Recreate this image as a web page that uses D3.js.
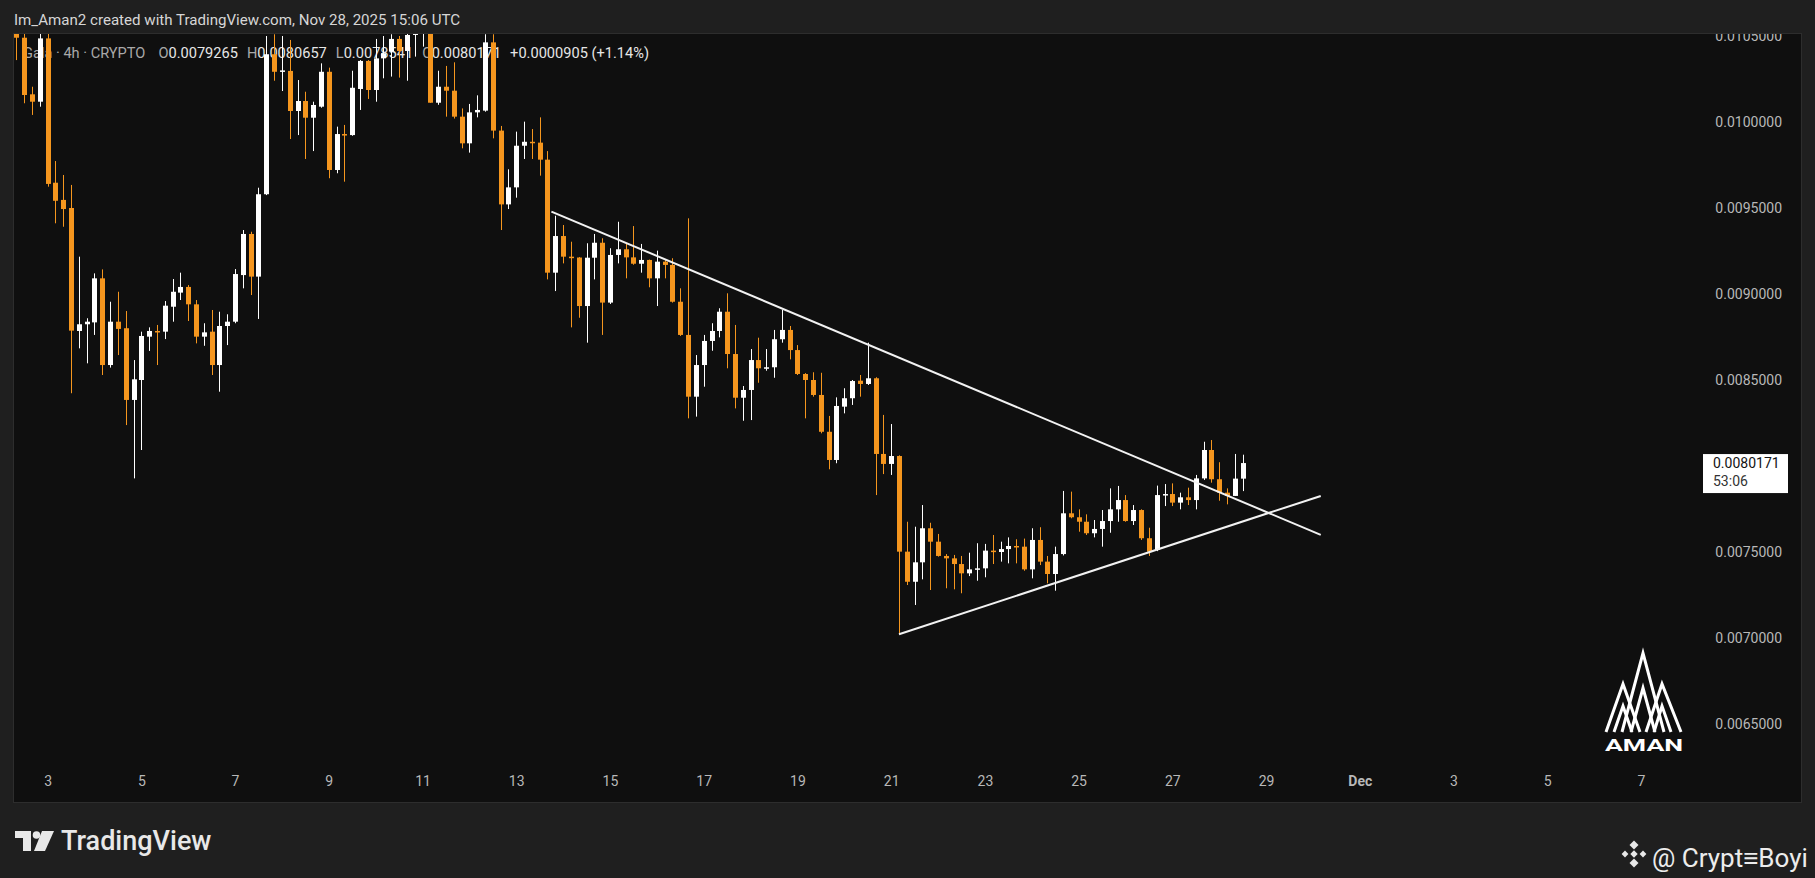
<!DOCTYPE html>
<html>
<head>
<meta charset="utf-8">
<script src="https://cdn.jsdelivr.net/npm/d3@7/dist/d3.min.js"></script>
<style>
  html, body { margin: 0; padding: 0; background: #1f1f1f; }
  svg { display: block; }
  text { font-family: Roboto, "Noto Sans", sans-serif; }
</style>
</head>
<body>
<div id="chart"></div>
<script>
// 4h candles, Gala / CRYPTO, first candle opens Nov 2 08:00 UTC
var firstCandle = "2025-11-02T08:00:00Z";

var opens = [
  0.010520, 0.010490, 0.010161, 0.010118, 0.010486, 0.009647, 0.009547, 0.009500, 0.008785, 0.008824,
  0.008835, 0.009091, 0.008587, 0.008839, 0.008801, 0.008384, 0.008500, 0.008752, 0.008785, 0.008781,
  0.008926, 0.009008, 0.009041, 0.008940, 0.008752, 0.008781, 0.008587, 0.008814, 0.008839, 0.009110,
  0.009349, 0.009101, 0.009580, 0.010394, 0.010292, 0.010297, 0.010064, 0.010122, 0.010025, 0.010089,
  0.010292, 0.009721, 0.009930, 0.009924, 0.010192, 0.010355, 0.010186, 0.010370, 0.010409, 0.010483,
  0.010413, 0.010506, 0.010560, 0.010580, 0.010112, 0.010205, 0.010182, 0.010031, 0.009876, 0.010056,
  0.010066, 0.010463, 0.009950, 0.009521, 0.009620, 0.009862, 0.009885, 0.009880, 0.009781, 0.009124,
  0.009337, 0.009217, 0.009212, 0.008930, 0.009211, 0.009298, 0.008950, 0.009227, 0.009260, 0.009213,
  0.009176, 0.009198, 0.009091, 0.009188, 0.009169, 0.008955, 0.008762, 0.008403, 0.008587, 0.008727,
  0.008785, 0.008897, 0.008651, 0.008397, 0.008442, 0.008616, 0.008568, 0.008574, 0.008737, 0.008791,
  0.008674, 0.008535, 0.008500, 0.008413, 0.008199, 0.008035, 0.008345, 0.008394, 0.008496, 0.008477,
  0.008510, 0.008070, 0.008012, 0.008058, 0.007502, 0.007327, 0.007440, 0.007638, 0.007560, 0.007477,
  0.007463, 0.007430, 0.007376, 0.007399, 0.007405, 0.007508, 0.007500, 0.007517, 0.007535, 0.007531,
  0.007399, 0.007570, 0.007444, 0.007372, 0.007488, 0.007725, 0.007702, 0.007676, 0.007609, 0.007634,
  0.007680, 0.007748, 0.007802, 0.007680, 0.007744, 0.007580, 0.007512, 0.007831, 0.007837, 0.007787,
  0.007818, 0.007802, 0.007928, 0.008093, 0.007923, 0.007845, 0.007826, 0.0079265
];
var highs = [
  0.010600, 0.010550, 0.010205, 0.010520, 0.010540, 0.009773, 0.009692, 0.009634, 0.009217, 0.008859,
  0.009120, 0.009143, 0.008955, 0.009013, 0.008901, 0.008616, 0.008781, 0.008806, 0.008820, 0.008959,
  0.009087, 0.009124, 0.009052, 0.008965, 0.008830, 0.008907, 0.008897, 0.008882, 0.009145, 0.009372,
  0.009362, 0.009618, 0.010500, 0.010510, 0.010500, 0.010477, 0.010244, 0.010176, 0.010118, 0.010341,
  0.010316, 0.009973, 0.009983, 0.010298, 0.010360, 0.010360, 0.010483, 0.010500, 0.010510, 0.010500,
  0.010540, 0.010620, 0.010650, 0.010600, 0.010298, 0.010326, 0.010347, 0.010079, 0.010105, 0.010155,
  0.010510, 0.010510, 0.009977, 0.009725, 0.009944, 0.010002, 0.009959, 0.010027, 0.009831, 0.009455,
  0.009401, 0.009304, 0.009215, 0.009295, 0.009349, 0.009324, 0.009266, 0.009420, 0.009295, 0.009395,
  0.009291, 0.009200, 0.009252, 0.009202, 0.009208, 0.009033, 0.009440, 0.008645, 0.008762, 0.008830,
  0.008917, 0.009004, 0.008820, 0.008465, 0.008680, 0.008746, 0.008680, 0.008791, 0.008907, 0.008814,
  0.008703, 0.008540, 0.008545, 0.008542, 0.008291, 0.008399, 0.008452, 0.008500, 0.008529, 0.008717,
  0.008516, 0.008297, 0.008244, 0.008062, 0.007676, 0.007647, 0.007773, 0.007670, 0.007605, 0.007488,
  0.007483, 0.007477, 0.007496, 0.007551, 0.007547, 0.007599, 0.007560, 0.007585, 0.007574, 0.007578,
  0.007638, 0.007644, 0.007477, 0.007531, 0.007855, 0.007851, 0.007748, 0.007719, 0.007686, 0.007744,
  0.007870, 0.007884, 0.007831, 0.007773, 0.007748, 0.007641, 0.007886, 0.007895, 0.007899, 0.007845,
  0.007874, 0.007948, 0.008141, 0.008151, 0.008022, 0.007870, 0.008070, 0.0080657
];
var lows = [
  0.010360, 0.010109, 0.010041, 0.010089, 0.009624, 0.009411, 0.009391, 0.008423, 0.008684, 0.008597,
  0.008762, 0.008529, 0.008572, 0.008645, 0.008238, 0.007928, 0.008093, 0.008669, 0.008587, 0.008738,
  0.008839, 0.008965, 0.008843, 0.008713, 0.008699, 0.008529, 0.008432, 0.008703, 0.008830, 0.009033,
  0.008994, 0.008855, 0.009575, 0.010240, 0.010180, 0.009901, 0.009924, 0.009785, 0.009831, 0.010083,
  0.009673, 0.009702, 0.009653, 0.009920, 0.010070, 0.010134, 0.010118, 0.010254, 0.010264, 0.010258,
  0.010240, 0.010380, 0.010438, 0.010112, 0.010100, 0.010031, 0.010020, 0.009847, 0.009822, 0.010027,
  0.010060, 0.009905, 0.009372, 0.009494, 0.009560, 0.009785, 0.009785, 0.009688, 0.009085, 0.009017,
  0.009178, 0.008806, 0.008862, 0.008717, 0.009085, 0.008762, 0.008942, 0.009178, 0.009091, 0.009170,
  0.009124, 0.009039, 0.008930, 0.009091, 0.008950, 0.008756, 0.008277, 0.008287, 0.008461, 0.008670,
  0.008748, 0.008568, 0.008335, 0.008263, 0.008267, 0.008484, 0.008554, 0.008513, 0.008717, 0.008620,
  0.008529, 0.008277, 0.008403, 0.008190, 0.007981, 0.008016, 0.008306, 0.008355, 0.008403, 0.008471,
  0.007831, 0.007953, 0.007948, 0.007022, 0.007308, 0.007192, 0.007341, 0.007279, 0.007473, 0.007289,
  0.007283, 0.007260, 0.007360, 0.007333, 0.007353, 0.007430, 0.007444, 0.007434, 0.007434, 0.007391,
  0.007347, 0.007424, 0.007318, 0.007275, 0.007480, 0.007696, 0.007618, 0.007599, 0.007585, 0.007531,
  0.007612, 0.007676, 0.007676, 0.007657, 0.007570, 0.007477, 0.007505, 0.007767, 0.007767, 0.007748,
  0.007773, 0.007748, 0.007919, 0.007903, 0.007798, 0.007777, 0.007826, 0.0078541
];
var closes = [
  0.010490, 0.010157, 0.010118, 0.010486, 0.009640, 0.009542, 0.009494, 0.008787, 0.008824, 0.008839,
  0.009091, 0.008587, 0.008839, 0.008797, 0.008384, 0.008504, 0.008756, 0.008785, 0.008780, 0.008932,
  0.009013, 0.009041, 0.008940, 0.008752, 0.008777, 0.008587, 0.008814, 0.008839, 0.009116, 0.009349,
  0.009101, 0.009580, 0.010394, 0.010292, 0.010300, 0.010064, 0.010122, 0.010025, 0.010099, 0.010292,
  0.009721, 0.009930, 0.009925, 0.010199, 0.010355, 0.010186, 0.010370, 0.010400, 0.010483, 0.010413,
  0.010506, 0.010560, 0.010580, 0.010112, 0.010205, 0.010182, 0.010031, 0.009876, 0.010056, 0.010070,
  0.010463, 0.009950, 0.009521, 0.009620, 0.009862, 0.009885, 0.009880, 0.009781, 0.009124, 0.009337,
  0.009217, 0.009212, 0.008930, 0.009211, 0.009298, 0.008950, 0.009227, 0.009260, 0.009213, 0.009176,
  0.009198, 0.009091, 0.009188, 0.009169, 0.008955, 0.008762, 0.008403, 0.008587, 0.008727, 0.008785,
  0.008897, 0.008651, 0.008397, 0.008442, 0.008616, 0.008568, 0.008574, 0.008737, 0.008791, 0.008674,
  0.008535, 0.008500, 0.008413, 0.008199, 0.008035, 0.008349, 0.008394, 0.008494, 0.008477, 0.008510,
  0.008070, 0.008012, 0.008058, 0.007502, 0.007327, 0.007440, 0.007638, 0.007560, 0.007477, 0.007463,
  0.007430, 0.007376, 0.007399, 0.007405, 0.007508, 0.007500, 0.007517, 0.007535, 0.007531, 0.007399,
  0.007570, 0.007444, 0.007372, 0.007488, 0.007725, 0.007702, 0.007676, 0.007609, 0.007634, 0.007680,
  0.007748, 0.007802, 0.007680, 0.007744, 0.007580, 0.007502, 0.007831, 0.007837, 0.007787, 0.007818,
  0.007802, 0.007928, 0.008093, 0.007923, 0.007845, 0.007826, 0.0079266, 0.0080171
];

// price scale ticks
var priceTicks = [0.0065, 0.0070, 0.0075, 0.0080, 0.0085, 0.0090, 0.0095, 0.0100, 0.0105];

// time scale ticks
var timeTicks = ["2025-11-03","2025-11-05","2025-11-07","2025-11-09","2025-11-11","2025-11-13",
  "2025-11-15","2025-11-17","2025-11-19","2025-11-21","2025-11-23","2025-11-25","2025-11-27",
  "2025-11-29","2025-12-01","2025-12-03","2025-12-05","2025-12-07"];
var timeLabels = ["3","5","7","9","11","13","15","17","19","21","23","25","27","29","Dec","3","5","7"];

// hand drawn triangle
var upperLine = [["2025-11-13T18:00:00Z", 0.009479], ["2025-11-30T04:00:00Z", 0.007600]];
var lowerLine = [["2025-11-21T04:00:00Z", 0.007022], ["2025-11-30T04:00:00Z", 0.007826]];

var lastPrice = 0.0080171;
var countdown = "53:06";

var W = 1815, H = 878;
var panel = {x: 13.5, y: 33.5, w: 1788, h: 769};
var up = "#ffffff", down = "#f5961e";

var svg = d3.select("#chart").append("svg")
    .attr("width", W)
    .attr("height", H);

svg.append("rect").attr("width", W).attr("height", H).attr("fill", "#1f1f1f");

svg.append("text")
    .attr("x", 14).attr("y", 25)
    .attr("fill", "#d6d6d6")
    .style("font-size", "15.1px")
    .text("Im_Aman2 created with TradingView.com, Nov 28, 2025 15:06 UTC");

svg.append("rect")
    .attr("x", panel.x).attr("y", panel.y)
    .attr("width", panel.w).attr("height", panel.h)
    .attr("fill", "#0f0f0f")
    .attr("stroke", "#2d2d2d");

svg.append("clipPath").attr("id", "plotclip")
  .append("rect")
    .attr("x", panel.x + 0.5).attr("y", panel.y + 0.5)
    .attr("width", panel.w - 1).attr("height", panel.h - 1);

var plot = svg.append("g").attr("clip-path", "url(#plotclip)");

var x = d3.scaleUtc()
    .domain([new Date("2025-11-03T00:00:00Z"), new Date("2025-12-07T00:00:00Z")])
    .range([47.6, 1641]);

var y = d3.scaleLinear()
    .domain([0.0065, 0.0105])
    .range([724, 36]);

// legend (candles are painted over it, as on the original)
var legend = plot.append("text")
    .attr("x", 23).attr("y", 58)
    .style("font-size", "14.6px");
var gray = "#a9a9a9", light = "#e6e6e6";
[["Gala \u00b7 4h \u00b7 CRYPTO", gray, 0],
 ["O", gray, 13], [d3.format(".7f")(opens[opens.length - 1]), light, 0],
 ["H", gray, 9], [d3.format(".7f")(highs[highs.length - 1]), light, 0],
 ["L", gray, 9], [d3.format(".7f")(lows[lows.length - 1]), light, 0],
 ["C", gray, 9], [d3.format(".7f")(closes[closes.length - 1]), light, 0],
 ["+0.0000905 (+1.14%)", light, 9]
].forEach(function(p) {
  legend.append("tspan").attr("dx", p[2]).attr("fill", p[1]).text(p[0]);
});

// candles
var start = new Date(firstCandle).getTime();
var candles = opens.map(function(o, i) {
  return {t: new Date(start + i * 4 * 3600 * 1000), o: o, h: highs[i], l: lows[i], c: closes[i]};
});

var g = plot.selectAll("g.candle")
    .data(candles)
    .enter().append("g")
    .attr("class", "candle");

g.append("line")
    .attr("x1", function(d) { return Math.round(x(d.t)) + 0.5; })
    .attr("x2", function(d) { return Math.round(x(d.t)) + 0.5; })
    .attr("y1", function(d) { return y(d.h); })
    .attr("y2", function(d) { return y(d.l); })
    .attr("stroke", function(d) { return d.c >= d.o ? up : down; })
    .attr("stroke-width", 1);

g.append("rect")
    .attr("x", function(d) { return Math.round(x(d.t)) - 2; })
    .attr("width", 5)
    .attr("y", function(d) { return y(Math.max(d.o, d.c)); })
    .attr("height", function(d) { return Math.max(1.5, Math.abs(y(d.o) - y(d.c))); })
    .attr("fill", function(d) { return d.c >= d.o ? up : down; });

// triangle lines
var line = d3.line()
    .x(function(d) { return x(new Date(d[0])); })
    .y(function(d) { return y(d[1]); });

[upperLine, lowerLine].forEach(function(l) {
  plot.append("path")
      .attr("d", line(l))
      .attr("fill", "none")
      .attr("stroke", "#f2f2f2")
      .attr("stroke-width", 2);
});

// price axis
var yAxis = plot.append("g")
    .attr("transform", "translate(1782,0)")
    .call(d3.axisLeft(y).tickValues(priceTicks).tickSize(0).tickPadding(0)
      .tickFormat(d3.format(".7f")));
yAxis.select(".domain").remove();
yAxis.selectAll("text")
    .attr("fill", "#b8b8b8")
    .style("font-size", "14px")
    .style("font-family", "Roboto, sans-serif");

// time axis
var xAxis = plot.append("g")
    .attr("transform", "translate(0,776)")
    .call(d3.axisBottom(x)
      .tickValues(timeTicks.map(function(s) { return new Date(s + "T00:00:00Z"); }))
      .tickSize(0).tickPadding(0)
      .tickFormat(function(d, i) { return timeLabels[i]; }));
xAxis.select(".domain").remove();
xAxis.selectAll("text")
    .attr("fill", "#b8b8b8")
    .style("font-size", "14px")
    .style("font-family", "Roboto, sans-serif")
    .style("font-weight", function(d, i) { return timeLabels[i] === "Dec" ? "bold" : "normal"; });

// last price label
var ly = y(lastPrice);
svg.append("rect")
    .attr("x", 1703).attr("y", ly - 9)
    .attr("width", 85).attr("height", 39)
    .attr("fill", "#ffffff");
svg.append("text")
    .attr("x", 1713).attr("y", ly + 5)
    .attr("fill", "#131313")
    .style("font-size", "14px")
    .text(d3.format(".7f")(lastPrice));
svg.append("text")
    .attr("x", 1713).attr("y", ly + 23)
    .attr("fill", "#333333")
    .style("font-size", "14px")
    .text(countdown);

// AMAN watermark
var logo = svg.append("g")
    .attr("fill", "none")
    .attr("stroke", "#ffffff")
    .attr("stroke-width", 3)
    .attr("stroke-linejoin", "miter");
logo.append("path").attr("d", "M1606,732 L1623,684 L1640,732");
logo.append("path").attr("d", "M1614,732 L1623,706 L1632,732");
logo.append("path").attr("d", "M1622,732 L1643,653 L1664,732");
logo.append("path").attr("d", "M1631,732 L1643,688 L1655,732");
logo.append("path").attr("d", "M1646,732 L1662,684 L1681,732");
logo.append("path").attr("d", "M1654,732 L1662,706 L1671,732");
svg.append("text")
    .attr("x", 1605).attr("y", 751)
    .attr("fill", "#ffffff")
    .attr("textLength", 78)
    .attr("lengthAdjust", "spacingAndGlyphs")
    .style("font-size", "16px")
    .style("font-weight", "bold")
    .text("AMAN");

// TradingView footer
var tv = svg.append("g").attr("fill", "#e8e8e8");
tv.append("path").attr("d", "M15,831 H31 V851 H23 V838 H15 Z");
tv.append("circle").attr("cx", 36.5).attr("cy", 835).attr("r", 3.8);
tv.append("path").attr("d", "M42,831 H54 L45,851 H34 Z");
svg.append("text")
    .attr("x", 61).attr("y", 850)
    .attr("fill", "#e8e8e8")
    .style("font-size", "27px")
    .style("font-weight", "500")
    .text("TradingView");

// Binance square tag
var bn = svg.append("g").attr("fill", "#e8e8e8");
[[1634, 845, 3.2], [1634, 863, 3.2], [1625, 854, 2.4], [1643, 854, 2.4], [1634, 854, 2.6]].forEach(function(p) {
  bn.append("rect")
      .attr("x", -p[2]).attr("y", -p[2])
      .attr("width", p[2] * 2).attr("height", p[2] * 2)
      .attr("transform", "translate(" + p[0] + "," + p[1] + ") rotate(45)");
});
svg.append("text")
    .attr("x", 1652).attr("y", 867)
    .attr("fill", "#ececec")
    .style("font-size", "26px")
    .text("@ Crypt\u2261Boyi");
</script>
</body>
</html>
